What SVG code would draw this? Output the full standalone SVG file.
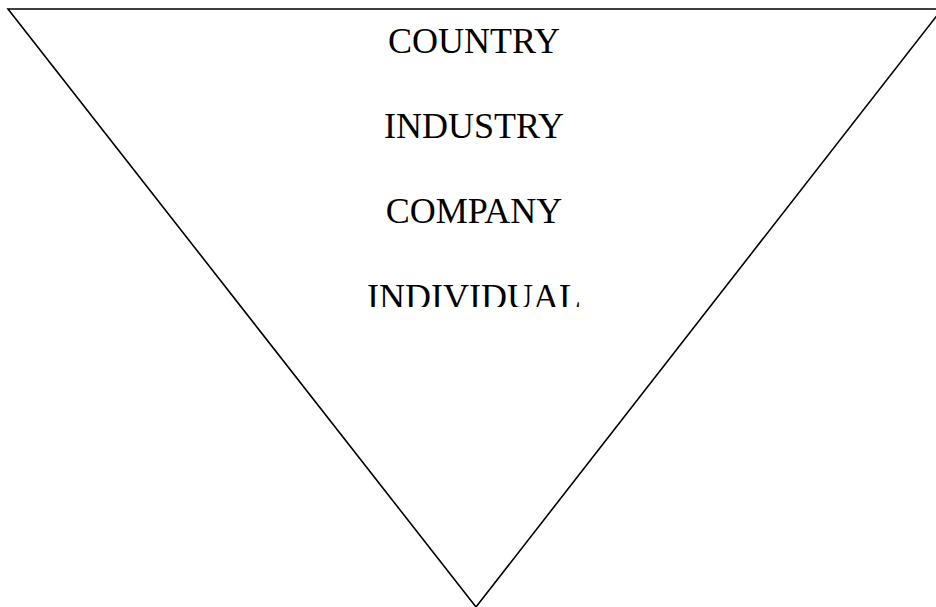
<svg xmlns="http://www.w3.org/2000/svg" width="936" height="607" viewBox="0 0 936 607">
<style>
.lbl{font-family:"Liberation Serif","Times New Roman",serif;font-size:36px;fill:#000;text-anchor:middle}
.edge{fill:#fff;stroke:#000;stroke-width:1.6;stroke-linejoin:miter}
</style>
<defs>
<clipPath id="cut"><rect x="0" y="0" width="936" height="307"/></clipPath>
</defs>
<rect width="936" height="607" fill="#fff"/>
<g id="triangle">
<polygon class="edge" points="8,9 942,9 476,607"/>
</g>
<g id="labels">
<text id="country" class="lbl" x="474" y="53">COUNTRY</text>
<text id="industry" class="lbl" x="474" y="138">INDUSTRY</text>
<text id="company" class="lbl" x="474" y="223">COMPANY</text>
<text id="individual" class="lbl" x="474" y="309" clip-path="url(#cut)">INDIVIDUAL</text>
</g>
</svg>
